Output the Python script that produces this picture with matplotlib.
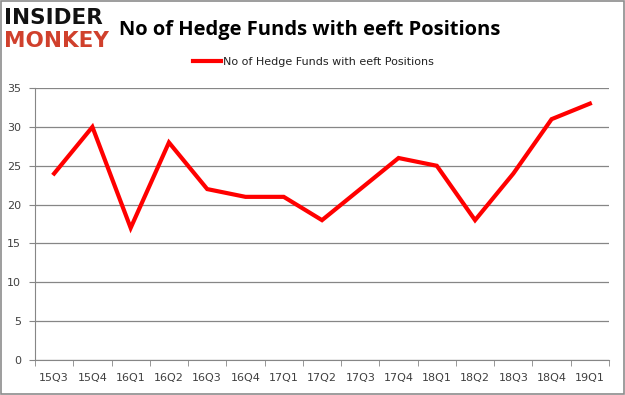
import matplotlib
matplotlib.use("Agg")
import matplotlib.pyplot as plt
from matplotlib.patches import Rectangle

quarters = ["15Q3", "15Q4", "16Q1", "16Q2", "16Q3", "16Q4", "17Q1", "17Q2",
            "17Q3", "17Q4", "18Q1", "18Q2", "18Q3", "18Q4", "19Q1"]
funds = [24, 30, 17, 28, 22, 21, 21, 18, 22, 26, 25, 18, 24, 31, 33]
yticks = [0, 5, 10, 15, 20, 25, 30, 35]
series_name = "No of Hedge Funds with eeft Positions"

fig = plt.figure(figsize=(6.25, 3.95), dpi=100)
fig.patch.set_facecolor("white")
fig.add_artist(Rectangle((0.0015, 0.002), 0.997, 0.996, transform=fig.transFigure,
                         fill=False, edgecolor="#8c8c8c", linewidth=1.2))

ax = fig.add_axes([0.056, 0.0886, 0.9184, 0.6884])
x = list(range(len(quarters)))
line, = ax.plot(x, funds, color="#ff0000", linewidth=3, solid_joinstyle="miter",
                label=series_name)
ax.set_xlim(-0.5, len(quarters) - 0.5)
ax.set_ylim(0, 35)
ax.set_yticks(yticks)
ax.set_yticklabels([str(v) for v in yticks])
ax.set_xticks(x)
ax.set_xticklabels(quarters)
ax.set_xticks([i - 0.5 for i in range(len(quarters) + 1)], minor=True)
ax.tick_params(axis="x", which="major", length=0, pad=9, labelsize=8, labelcolor="#404040")
ax.tick_params(axis="x", which="minor", length=4, color="#868686", direction="out")
ax.tick_params(axis="y", length=4, color="#868686", labelsize=8, labelcolor="#404040", pad=6)
ax.grid(axis="y", color="#868686", linewidth=0.9)
ax.set_axisbelow(True)
for s in ["top", "right"]:
    ax.spines[s].set_visible(False)
for s in ["left", "bottom"]:
    ax.spines[s].set_color("#868686")

fig.text(0.496, 0.925, "No of Hedge Funds with eeft Positions", ha="center", va="center",
         fontsize=14.5, fontweight="bold", family="Open Sans", color="black")
fig.text(0.006, 0.954, "INSIDER", ha="left", va="center", fontsize=15.5, fontweight="heavy",
         family="DejaVu Sans", color="#111111")
fig.text(0.006, 0.897, "MONKEY", ha="left", va="center", fontsize=15.5, fontweight="heavy",
         family="DejaVu Sans", color="#d0402c")

leg = fig.legend(handles=[line], loc="center", bbox_to_anchor=(0.502, 0.843), frameon=False,
                 fontsize=8, handlelength=2.5, handletextpad=0.2)
for t in leg.get_texts():
    t.set_color("#222222")

fig.savefig("out.png", dpi=100)
